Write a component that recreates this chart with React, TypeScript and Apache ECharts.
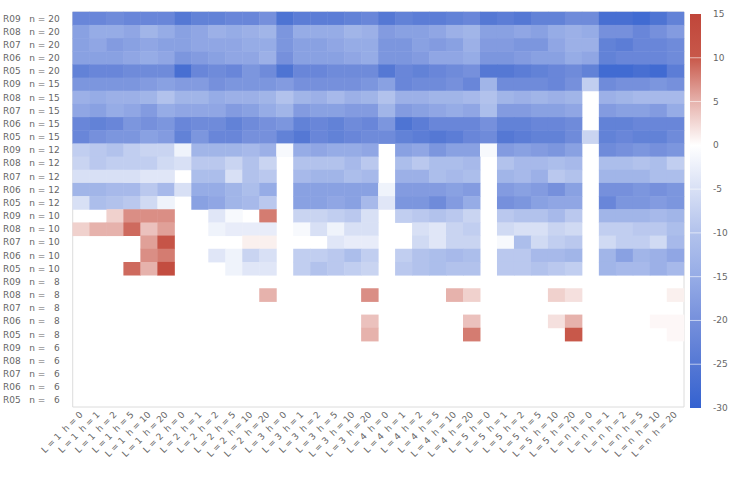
import React, { useEffect, useRef } from "react";
import * as echarts from "echarts";

// ---------- axis categories ----------
const replicates = ["R09", "R08", "R07", "R06", "R05"];
const sampleSizes = [20, 15, 12, 10, 8, 6];
const lValues = ["1", "2", "3", "4", "5", "n"];
const hValues = [0, 1, 2, 5, 10, 20];

const rowLabels = sampleSizes.flatMap((n) =>
  replicates.map((r) => `${r}   n = ${n < 10 ? "  " + n : n}`)
);
const colLabels = lValues.flatMap((L) => hValues.map((h) => `L = ${L}  h = ${h}`));

// colour-bar ticks
const cbMin = -30;
const cbMax = 15;
const cbTicks = [15, 10, 5, 0, -5, -10, -15, -20, -25, -30];

// ---------- values (null = empty cell) ----------
const N = null;
const rowsN20 = [
  [-22,-22,-21,-22,-22,-22,-25,-23,-23, -22,-22,-20,-26,-24,-24,-24,-23,-22, -25,-23,-24,-24,-23,-22,-25,-24,-25, -23,-23,-21,-21,-27,-27,-28,-26,-23],
  [-17,-15,-15,-16,-13,-15,-17,-16,-14, -15,-14,-13,-19,-15,-15,-15,-13,-14, -18,-17,-17,-16,-14,-13,-17,-17,-16, -17,-15,-14,-15,-20,-20,-22,-20,-18],
  [-17,-16,-18,-17,-16,-17,-17,-16,-16, -16,-15,-15,-19,-17,-17,-16,-15,-15, -19,-19,-17,-18,-17,-14,-18,-18,-19, -19,-16,-14,-14,-23,-24,-22,-22,-21],
  [-17,-17,-17,-16,-15,-16,-19,-18,-17, -16,-16,-14,-20,-17,-17,-17,-16,-15, -19,-19,-18,-16,-16,-15,-19,-19,-18, -17,-17,-15,-16,-23,-22,-22,-22,-21],
  [-23,-22,-22,-21,-21,-21,-27,-22,-21, -22,-19,-21,-26,-22,-22,-21,-21,-21, -25,-22,-23,-22,-21,-20,-25,-25,-24, -23,-22,-21,-23,-28,-28,-27,-28,-24],
];
const rowsN15 = [
  [-19,-19,-19,-19,-18,-17,-18,-18,-20, -19,-19,-19,-18,-20,-20,-20,-20,-19, -17,-22,-21,-21,-20,-22,-13,-21,-21, -21,-22,-20,-8,-21,-20,-20,-19,-20],
  [-14,-15,-14,-14,-13,-10,-13,-13,-15, -14,-14,-13,-10,-13,-14,-12,-14,-13, -10,-14,-14,-13,-13,-12,-10,-13,-14, -13,-14,-13,N,-14,-13,-12,-12,-12],
  [-16,-17,-15,-16,-18,-15,-16,-16,-16, -18,-17,-15,-13,-18,-17,-17,-18,-18, -13,-18,-17,-16,-15,-16,-11,-18,-18, -17,-17,-16,N,-18,-17,-17,-18,-15],
  [-22,-23,-22,-19,-20,-19,-22,-21,-21, -23,-21,-20,-19,-23,-22,-23,-21,-22, -19,-26,-24,-22,-22,-22,-20,-23,-23, -22,-22,-21,N,-23,-23,-22,-22,-22],
  [-22,-20,-19,-19,-17,-18,-23,-19,-22, -22,-20,-20,-23,-25,-22,-23,-22,-21, -21,-23,-24,-25,-24,-22,-21,-25,-24, -23,-23,-21,-7,-23,-22,-23,-23,-21],
];
const rowsN12 = [
  [-8,-9,-10,-8,-7,-7,-2,-13,-13, -13,-12,-14,-1,-15,-16,-15,-15,-16, N,-17,-16,-19,-17,-17,-1,-18,-17, -18,-19,-17,N,-21,-20,-19,-20,-19],
  [-7,-9,-8,-8,-8,-6,-5,-9,-9, -7,-10,-7,N,-10,-10,-10,-12,-9, N,-11,-9,-11,-11,-12,N,-10,-12, -12,-11,-12,N,-11,-11,-10,-11,-8],
  [-5,-5,-5,-5,-4,-4,N,-11,-11, -5,-10,-9,N,-12,-13,-13,-11,-12, N,-14,-14,-11,-12,-11,N,-13,-12, -14,-9,-10,N,-13,-13,-13,-11,-11],
  [-13,-13,-12,-12,-9,-12,-5,-15,-15, -13,-11,-15,N,-17,-17,-17,-17,-17, -2,-18,-18,-18,-17,-18,N,-18,-17, -18,-20,-17,N,-20,-20,-19,-20,-19],
  [-5,-11,-10,-9,-6,-2,N,-17,-16, -13,-12,-9,N,-17,-17,-16,-17,-12, -4,-19,-19,-21,-18,-15,N,-20,-19, -17,-16,-16,N,-22,-19,-19,-18,-19],
];
const rowsN10 = [
  [N,N,3,7,7,7,N,N,-4, -1,N,8,N,-7,-7,-8,-9,-5, N,-8,-9,-10,-9,-7,N,-9,-10, -10,-12,-9,N,-13,-13,-13,-12,-13],
  [3,5,5,9,4,6,N,N,-2, -3,-3,-3,N,-1,-5,-2,-5,-5, N,N,-5,-4,-7,-8,N,-6,-5, -5,-7,-6,N,-8,-8,-9,-9,-11],
  [N,N,N,N,6,11,N,N,N, N,1,1,N,N,N,-4,-3,-3, N,N,-6,-4,-7,-7,N,-1,-11, -6,-8,-9,N,-6,-8,-8,-6,-12],
  [N,N,N,N,7,8,N,N,-4, -2,-7,-5,N,-8,-8,-9,-11,-8, N,-8,-10,-11,-12,-11,N,-9,-9, -12,-12,-13,N,-13,-17,-13,-14,-16],
  [N,N,N,9,5,13,N,N,N, -2,-4,-4,N,-8,-10,-9,-8,-7, N,-9,-10,-11,-10,-10,N,-9,-9, -10,-9,-8,N,-13,-12,-12,-14,-12],
];
const rowsN8 = [
  [N,N,N,N,N,N,N,N,N, N,N,N,N,N,N,N,N,N, N,N,N,N,N,N,N,N,N, N,N,N,N,N,N,N,N,N],
  [N,N,N,N,N,N,N,N,N, N,N,5,N,N,N,N,N,7, N,N,N,N,5,3,N,N,N, N,3,2,N,N,N,N,N,1],
  [N,N,N,N,N,N,N,N,N, N,N,N,N,N,N,N,N,N, N,N,N,N,N,N,N,N,N, N,N,N,N,N,N,N,N,N],
  [N,N,N,N,N,N,N,N,N, N,N,N,N,N,N,N,N,4, N,N,N,N,N,4,N,N,N, N,2,5,N,N,N,N,0.5,0.5],
  [N,N,N,N,N,N,N,N,N, N,N,N,N,N,N,N,N,5, N,N,N,N,N,8,N,N,N, N,N,10,N,N,N,N,N,0.5],
];
const rowsN6 = [
  [N,N,N,N,N,N,N,N,N, N,N,N,N,N,N,N,N,N, N,N,N,N,N,N,N,N,N, N,N,N,N,N,N,N,N,N],
  [N,N,N,N,N,N,N,N,N, N,N,N,N,N,N,N,N,N, N,N,N,N,N,N,N,N,N, N,N,N,N,N,N,N,N,N],
  [N,N,N,N,N,N,N,N,N, N,N,N,N,N,N,N,N,N, N,N,N,N,N,N,N,N,N, N,N,N,N,N,N,N,N,N],
  [N,N,N,N,N,N,N,N,N, N,N,N,N,N,N,N,N,N, N,N,N,N,N,N,N,N,N, N,N,N,N,N,N,N,N,N],
  [N,N,N,N,N,N,N,N,N, N,N,N,N,N,N,N,N,N, N,N,N,N,N,N,N,N,N, N,N,N,N,N,N,N,N,N],
];

// colour map, evenly spaced every 5 units from cbMin (-30) to cbMax (15)
const cmap = [
  "#3462d0", "#5578d4", "#7690dc", "#96ace6", "#b2c2ec",
  "#d8e0f5", "#ffffff", "#e6b2ac", "#c8584a", "#c0463a",
];

const TEXT = "#666";
const FONT = "DejaVu Sans";

export default function App() {
  const ref = useRef<HTMLDivElement>(null);

  useEffect(() => {
    if (!ref.current) return;
    const chart = echarts.init(ref.current, undefined, { renderer: "svg" });

    const matrix = [...rowsN20, ...rowsN15, ...rowsN12, ...rowsN10, ...rowsN8, ...rowsN6];
    const heat: any[] = [];
    matrix.forEach((row, r) =>
      row.forEach((v, c) => heat.push([c, r, v === null ? "-" : v]))
    );

    const gradStops = cmap
      .slice()
      .reverse()
      .map((c, i, a) => ({ offset: i / (a.length - 1), color: c }));

    chart.setOption({
      animation: false,
      backgroundColor: "#fff",
      grid: [
        { left: 72, top: 12, width: 612, height: 395, show: true, borderColor: "#dcdcdc", borderWidth: 1, backgroundColor: "transparent" },
        { left: 690, top: 14, width: 11, height: 394 },
      ],
      xAxis: [
        {
          type: "category",
          gridIndex: 0,
          data: colLabels,
          axisLine: { show: false },
          axisTick: { show: false },
          splitLine: { show: false },
          axisLabel: { interval: 0, rotate: 45, fontSize: 9, color: TEXT, fontFamily: FONT, margin: 6 },
        },
        { type: "value", gridIndex: 1, min: 0, max: 1, show: false },
      ],
      yAxis: [
        {
          type: "category",
          gridIndex: 0,
          inverse: true,
          data: rowLabels,
          axisLine: { show: false },
          axisTick: { show: false },
          splitLine: { show: false },
          axisLabel: { interval: 0, fontSize: 9, color: TEXT, fontFamily: FONT, margin: 13 },
        },
        {
          type: "value",
          gridIndex: 1,
          position: "right",
          min: cbMin,
          max: cbMax,
          interval: 5,
          axisLine: { show: false },
          axisTick: { show: false },
          splitLine: { show: false },
          axisLabel: { fontSize: 9, color: TEXT, fontFamily: FONT, margin: 12 },
        },
      ],
      visualMap: {
        show: false,
        type: "continuous",
        min: cbMin,
        max: cbMax,
        seriesIndex: 0,
        dimension: 2,
        inRange: { color: cmap },
      },
      series: [
        {
          type: "heatmap",
          xAxisIndex: 0,
          yAxisIndex: 0,
          data: heat,
          itemStyle: { borderWidth: 0 },
          emphasis: { disabled: true },
        },
        {
          type: "custom",
          xAxisIndex: 1,
          yAxisIndex: 1,
          data: [[0, 0]],
          silent: true,
          renderItem: (_params: any, api: any) => {
            const tl = api.coord([0, cbMax]);
            const br = api.coord([1, cbMin]);
            const children: any[] = [
              {
                type: "rect",
                shape: { x: tl[0], y: tl[1], width: br[0] - tl[0], height: br[1] - tl[1] },
                style: { fill: new echarts.graphic.LinearGradient(0, 0, 0, 1, gradStops) },
              },
            ];
            cbTicks.forEach((t) => {
              if (t === cbMin || t === cbMax) return;
              const p = api.coord([0, t]);
              children.push({
                type: "line",
                shape: { x1: tl[0], y1: p[1], x2: br[0], y2: p[1] },
                style: { stroke: "rgba(255,255,255,0.6)", lineWidth: 1 },
              });
            });
            return { type: "group", children };
          },
        },
      ],
    });

    return () => chart.dispose();
  }, []);

  return (
    <div
      ref={ref}
      style={{ position: "fixed", left: 0, top: 0, width: 747, height: 498 }}
    />
  );
}
